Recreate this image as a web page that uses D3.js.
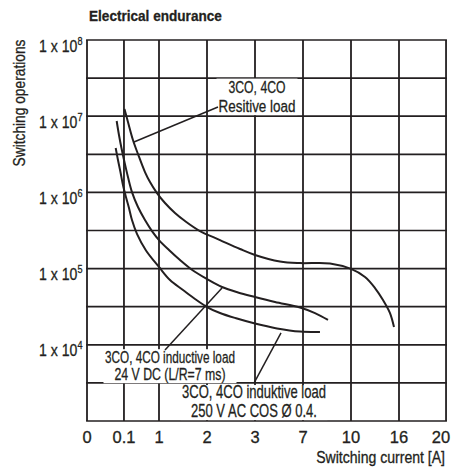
<!DOCTYPE html>
<html><head><meta charset="utf-8">
<script src="https://cdn.jsdelivr.net/npm/d3@7"></script>
<style>
body{margin:0;background:#fff;}
svg{display:block;}
text{font-family:"Liberation Sans",Arial,sans-serif;fill:#231f20;stroke:#231f20;stroke-width:0.3;}
</style></head>
<body>
<svg id="chart" width="453" height="468"></svg>
<script>
// ---- data ----
const xTickValues = [0, 0.1, 1, 2, 3, 7, 10, 16, 20];
const xTickLabels = ["0", "0.1", "1", "2", "3", "7", "10", "16", "20"];
const xTickSlots  = [0, 0.77, 1.5, 2.5, 3.5, 4.5, 5.5, 6.5, 7.48]; // uneven spacing of the printed grid
const yLabelExponents = [4, 5, 6, 7, 8];
const yGridExponents = [3, 3.5, 4, 4.5, 5, 5.5, 6, 6.5, 7, 7.5, 8];

// Resistive load (3CO, 4CO)
const resistiveX = [0.113, 0.203, 0.331, 0.46, 0.64, 0.769, 0.949, 1.125, 1.333, 1.542, 1.854, 2.271, 2.688, 3.0, 5.08, 6.75, 8.69, 10.0, 11.75, 13.0, 14.0, 14.875, 15.375];
const resistiveY = [1.24e7, 8.39e6, 4.87e6, 3.19e6, 1.85e6, 1.37e6, 9.8e5, 7.26e5, 5.37e5, 4.21e5, 3.11e5, 2.37e5, 1.81e5, 1.51e5, 1.24e5, 1.18e5, 1.17e5, 9.9e4, 7.76e4, 5.56e4, 3.87e4, 2.61e4, 1.71e4];

// Inductive load 24 V DC (L/R = 7 ms)
const dcX = [0.0803, 0.0865, 0.0932, 0.113, 0.203, 0.306, 0.46, 0.64, 0.82, 1.0, 1.208, 1.4375, 1.708, 2.0, 2.3125, 2.646, 3.0, 4.667, 6.75, 7.75, 8.5625];
const dcY = [8.65e6, 5.67e6, 3.83e6, 2.51e6, 1.59e6, 1.01e6, 6.43e5, 4.34e5, 3.11e5, 2.37e5, 1.754e5, 1.297e5, 9.44e4, 7.3e4, 5.73e4, 4.86e4, 4.24e4, 3.65e4, 3.09e4, 2.61e4, 2.12e4];

// Inductive load 250 V AC cos phi 0.4
const acX = [0.0776, 0.0838, 0.0905, 0.0973, 0.151, 0.229, 0.306, 0.434, 0.666, 1.0, 1.229, 1.5, 1.75, 2.0, 2.271, 2.625, 3.0, 4.833, 6.75, 8.06];
const acY = [3.83e6, 2.66e6, 1.85e6, 1.25e6, 8.7e5, 6.24e5, 4.34e5, 2.86e5, 1.73e5, 1.05e5, 7.08e4, 5.24e4, 3.99e4, 3.13e4, 2.61e4, 2.21e4, 1.9e4, 1.64e4, 1.49e4, 1.47e4];

// annotations: leader from (x0,y0) to (x1,y1); text block centred at (tx, ty = first baseline)
const annotLines = [
  ["3CO, 4CO", "Resitive load"],
  ["3CO, 4CO inductive load", "24 V DC (L/R=7 ms)"],
  ["3CO, 4CO induktive load", "250 V AC COS Ø 0.4."]
];
const annotLeaderX0 = [0.357, 1.125, 2.979];
const annotLeaderY0 = [4.58e6, 8.55e3, 3.15e3];
const annotLeaderX1 = [2.229, 2.3125, 5.167];
const annotLeaderY1 = [1.32e7, 5.56e4, 1.43e4];
const annotTextX = [3.167, 1.229, 2.979];
const annotTextY = [2.01e7, 5.82e3, 2.0e3];

const title = "Electrical endurance";
const yTitle = "Switching operations";
const xTitle = "Switching current [A]";

// ---- layout / style ----
const annotWidths = [[57, 77], [130, 111], [144, 126]];
const annotSizes = [17, 17, 18];
const annotLeading = [18.5, 17.5, 19];
const maskPad = [[2, 14.5, 3.5], [1.5, 13.5, 3], [1.5, 13, 3]]; // [side, above first baseline, below last baseline]

const svg = d3.select("#chart");
const L = 87, T = 40, B = 421, slot = 48;
const x = d3.scaleLinear().domain(xTickValues).range(xTickSlots.map(s => L + s * slot));
const y = d3.scaleLog().domain([1e3, 1e8]).range([B, T]);
const R = x(20);
const ink = "#231f20";

// place a text at (px,py) and squeeze it horizontally to a target width
function placeFit(node, px, py, w, extra) {
  const len = node.getComputedTextLength();
  const s = w / len;
  node.setAttribute("transform", `translate(${px},${py}) ${extra || ""} scale(${s},1)`);
}

// grid
const g = svg.append("g");
g.selectAll("line.h").data(yGridExponents).join("line")
  .attr("x1", L - 0.9).attr("x2", R + 0.9)
  .attr("y1", d => y(Math.pow(10, d))).attr("y2", d => y(Math.pow(10, d)))
  .attr("stroke", ink).attr("stroke-width", 1.7);
g.selectAll("line.v").data(xTickValues).join("line")
  .attr("y1", T).attr("y2", B)
  .attr("x1", d => x(d)).attr("x2", d => x(d))
  .attr("stroke", ink).attr("stroke-width", 1.8);

// white masks behind annotation text blocks
annotLines.forEach((lines, i) => {
  const cx = x(annotTextX[i]), by = y(annotTextY[i]);
  const w = Math.max(...annotWidths[i]) + 2 * maskPad[i][0];
  svg.append("rect")
    .attr("x", cx - w / 2).attr("width", w)
    .attr("y", by - maskPad[i][1])
    .attr("height", maskPad[i][1] + (lines.length - 1) * annotLeading[i] + maskPad[i][2])
    .attr("fill", "#fff");
});

// x tick labels
svg.selectAll("text.xt").data(xTickValues).join("text")
  .attr("transform", d => `translate(${Math.min(x(d), R - 5)},${B + 22})`)
  .attr("text-anchor", "middle").attr("font-size", 16.5)
  .text((d, i) => xTickLabels[i]);

// y tick labels: "1 x 10" + superscript exponent
svg.selectAll("text.yt").data(yLabelExponents).join("text")
  .attr("text-anchor", "end").attr("font-size", 17)
  .each(function (d) {
    const t = d3.select(this);
    t.append("tspan").text("1 x 10");
    t.append("tspan").attr("dy", -7).attr("font-size", 11).text(d);
    placeFit(this, 82.5, y(Math.pow(10, d)) + 11.5, 43.5);
  });

// curves
const line = d3.line().x(d => x(d[0])).y(d => y(d[1])).curve(d3.curveCatmullRom.alpha(0.5));
[[resistiveX, resistiveY], [dcX, dcY], [acX, acY]].forEach(([xs, ys]) => {
  svg.append("path").datum(xs.map((v, i) => [v, ys[i]]))
    .attr("d", line).attr("fill", "none").attr("stroke", ink).attr("stroke-width", 2);
});

// annotations
annotLines.forEach((lines, i) => {
  svg.append("line")
    .attr("x1", x(annotLeaderX0[i])).attr("y1", y(annotLeaderY0[i]))
    .attr("x2", x(annotLeaderX1[i])).attr("y2", y(annotLeaderY1[i]))
    .attr("stroke", ink).attr("stroke-width", 1.5);
  lines.forEach((s, j) => {
    const t = svg.append("text").attr("text-anchor", "middle").attr("font-size", annotSizes[i]).text(s);
    placeFit(t.node(), x(annotTextX[i]), y(annotTextY[i]) + j * annotLeading[i], annotWidths[i][j]);
  });
});

// titles
const tt = svg.append("text").attr("font-size", 15.5).attr("font-weight", "bold").text(title);
placeFit(tt.node(), 89, 21, 133);
const yt = svg.append("text").attr("text-anchor", "middle").attr("font-size", 16).text(yTitle);
placeFit(yt.node(), 25, (T + 166) / 2, 127, "rotate(-90)");
const xt = svg.append("text").attr("text-anchor", "end").attr("font-size", 16).text(xTitle);
placeFit(xt.node(), R - 1, 462.5, 129);
</script>
</body></html>
